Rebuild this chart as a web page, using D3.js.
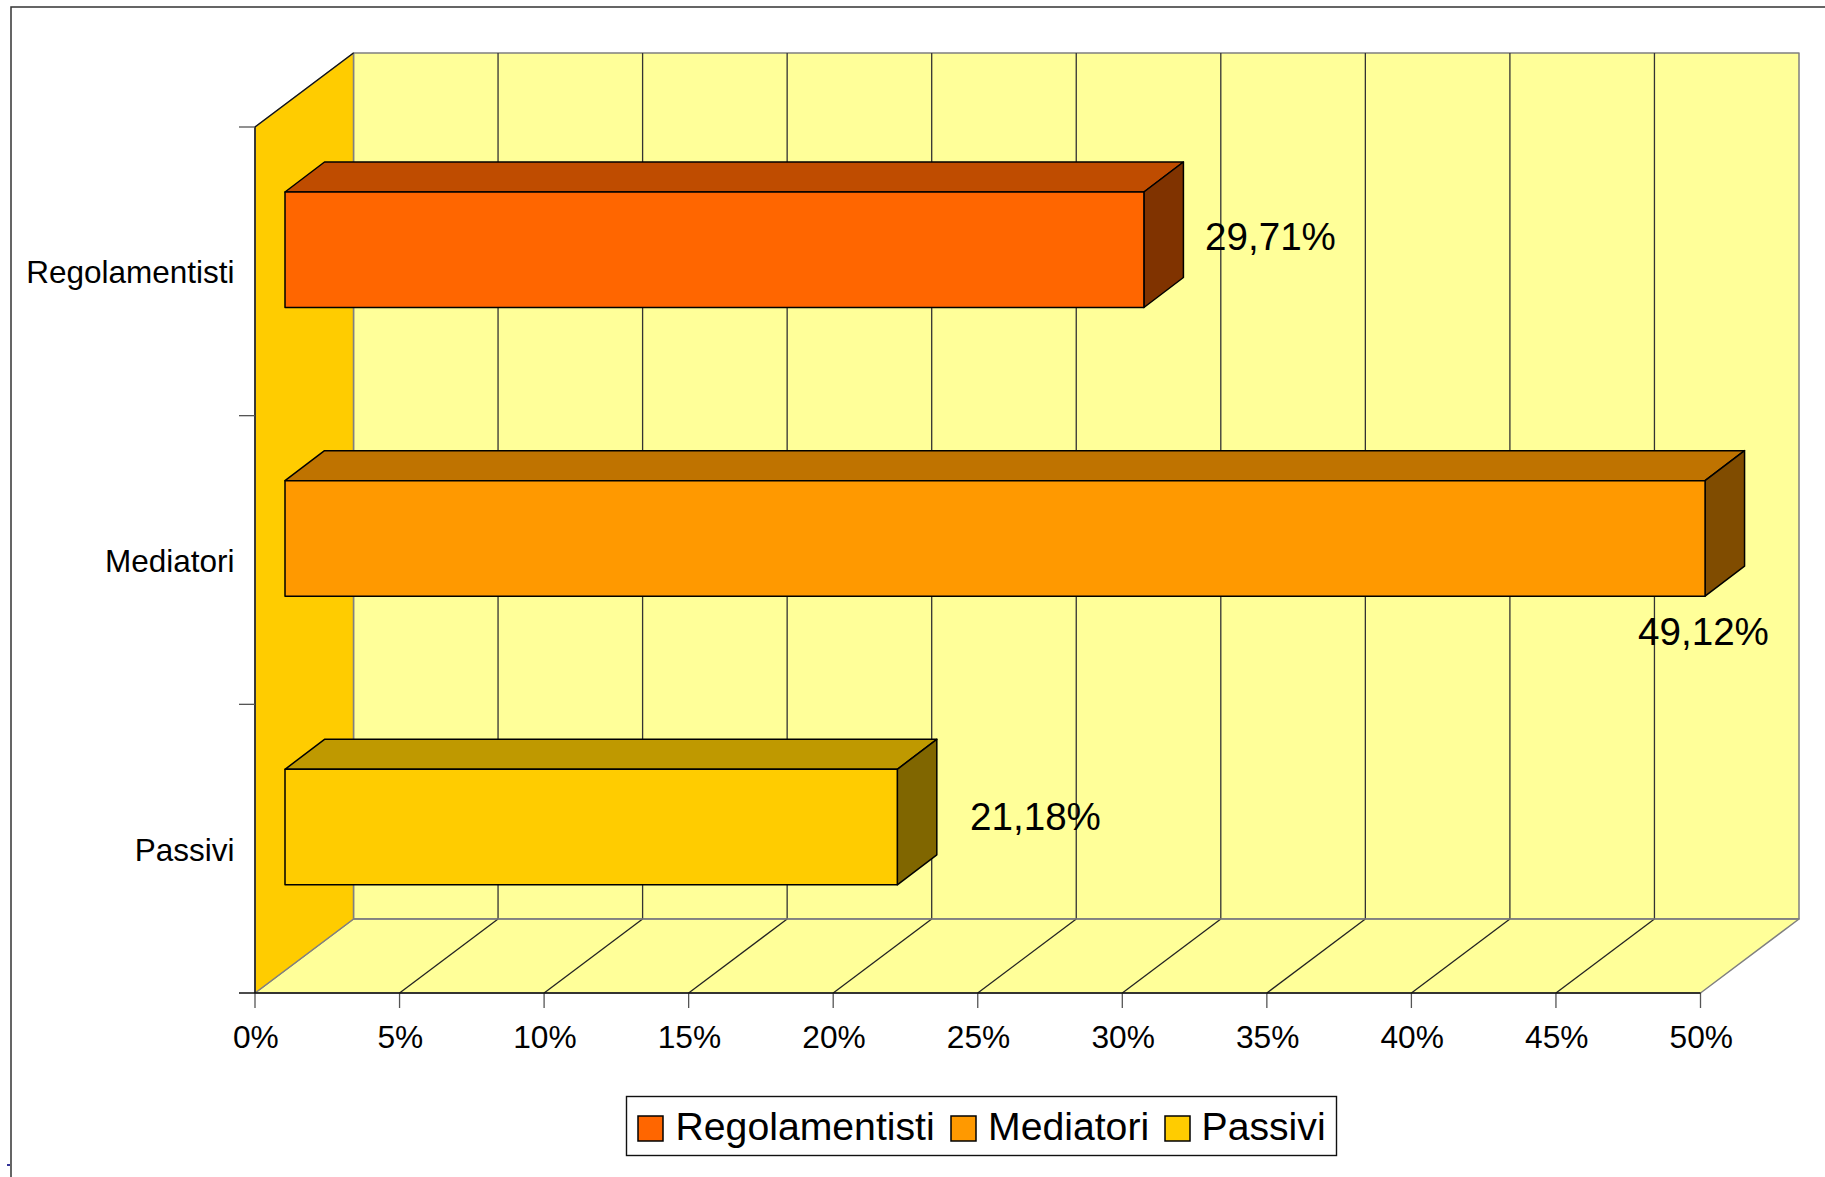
<!DOCTYPE html>
<html><head><meta charset="utf-8">
<style>html,body{margin:0;padding:0;background:#fff}svg{display:block}text{font-family:"Liberation Sans",Arial,sans-serif;fill:#000}</style>
<script src="https://cdnjs.cloudflare.com/ajax/libs/d3/7.8.5/d3.min.js"></script>
</head><body><svg id="c" width="1825" height="1177"></svg>
<script>
const categories=["Regolamentisti","Mediatori","Passivi"];
const values=[29.71,49.12,21.18];
const valueLabels=["29,71%","49,12%","21,18%"];
const xTicks=[0,5,10,15,20,25,30,35,40,45,50];
const faceColors=["#FF6600","#FF9900","#FFCC00"];
const topColors=["#BF4C00","#BF7300","#BF9900"];
const sideColors=["#803300","#804C00","#806600"];
const labelAnchors=[[1270.5,235.5],[1703.5,630.5],[1035.5,815.5]];

const W=1825,H=1177;
const svg=d3.select("#c");
const L=255,R=1700.5,T=127,B=993,DX=98.5,DY=74;
const x=d3.scaleLinear().domain([0,50]).range([L,R]);
const y=d3.scaleBand().domain(categories).range([T,B]);
const barOffX=30,barH=115.5,barShift=-21.6,bdx=39.5,bdy=30;
const poly=(pts,fill,stroke,sw=1.5)=>svg.append("polygon").attr("points",pts.map(p=>p.join(",")).join(" ")).attr("fill",fill).attr("stroke",stroke).attr("stroke-width",sw).attr("stroke-linejoin","round");
const line=(x1,y1,x2,y2,stroke,sw=1.3)=>svg.append("line").attr("x1",x1).attr("y1",y1).attr("x2",x2).attr("y2",y2).attr("stroke",stroke).attr("stroke-width",sw);

// outer frame
svg.append("path").attr("d",`M11,${H} V7 H${W}`).attr("fill","none").attr("stroke","#333").attr("stroke-width",1.5);
svg.append("rect").attr("x",7).attr("y",1164).attr("width",3).attr("height",2).attr("fill","#333399");

// walls
poly([[L+DX,T-DY],[R+DX,T-DY],[R+DX,B-DY],[L+DX,B-DY]],"#FFFF99","#808080",1.5);
poly([[L,B],[R,B],[R+DX,B-DY],[L+DX,B-DY]],"#FFFF99","#808080",1.5);
poly([[L,T],[L+DX,T-DY],[L+DX,B-DY],[L,B]],"#FFCC00","#808080",1.5);
line(L,T,L+DX,T-DY,"#111");
// grid
xTicks.slice(1,-1).forEach(v=>{
  line(x(v)+DX,T-DY,x(v)+DX,B-DY,"#333");
  line(x(v),B,x(v)+DX,B-DY,"#222");
});
line(L+DX,B-DY,R+DX,B-DY,"#808080",1.6);
line(L,T,L,B,"#222",1.6);

// axes
const xAxis=svg.append("g").attr("transform",`translate(0,${B})`).call(d3.axisBottom(x).offset(0).tickValues(xTicks).tickFormat(d=>d+"%").tickSize(15).tickSizeOuter(0));
xAxis.select(".domain").remove();
xAxis.selectAll("line").attr("stroke","#555").attr("stroke-width",1.3);
xAxis.selectAll("text").attr("font-size",31.7).attr("x",0.8).attr("y",0).attr("dy",55).attr("fill","#000");
line(239,B,R,B,"#111",1.5);
[0,1,2].forEach(i=>line(239,y(categories[i]),L,y(categories[i]),"#555"));
const yAxis=svg.append("g").attr("transform",`translate(234.5,0)`).call(d3.axisLeft(y).offset(0).tickSize(0).tickPadding(0));
yAxis.select(".domain").remove();
yAxis.selectAll("text").attr("font-size",31.5).attr("dy",12).attr("fill","#000");

// bars
categories.forEach((c,i)=>{
  const x0=x(0)+barOffX,x1=x(values[i])+barOffX;
  const y0=y(c)+y.bandwidth()/2+barShift-barH/2,y1=y0+barH;
  poly([[x0,y0],[x0+bdx,y0-bdy],[x1+bdx,y0-bdy],[x1,y0]],topColors[i],"#000");
  poly([[x1,y0],[x1+bdx,y0-bdy],[x1+bdx,y1-bdy],[x1,y1]],sideColors[i],"#000");
  poly([[x0,y0],[x1,y0],[x1,y1],[x0,y1]],faceColors[i],"#000");
});
// value labels
valueLabels.forEach((t,i)=>svg.append("text").text(t).attr("x",labelAnchors[i][0]).attr("y",labelAnchors[i][1]).attr("dy",14).attr("text-anchor","middle").attr("font-size",38.6));

// legend
svg.append("rect").attr("x",626.5).attr("y",1096.5).attr("width",710).attr("height",59).attr("fill","#fff").attr("stroke","#111").attr("stroke-width",1.4);
const legendSwatch=[638,951,1165],legendText=[675.5,988,1201.5];
categories.forEach((c,i)=>{
  svg.append("rect").attr("x",legendSwatch[i]).attr("y",1116).attr("width",25).attr("height",25).attr("fill",faceColors[i]).attr("stroke","#000").attr("stroke-width",1.5);
  svg.append("text").text(c).attr("x",legendText[i]).attr("y",1140).attr("font-size",39.2);
});
</script></body></html>
